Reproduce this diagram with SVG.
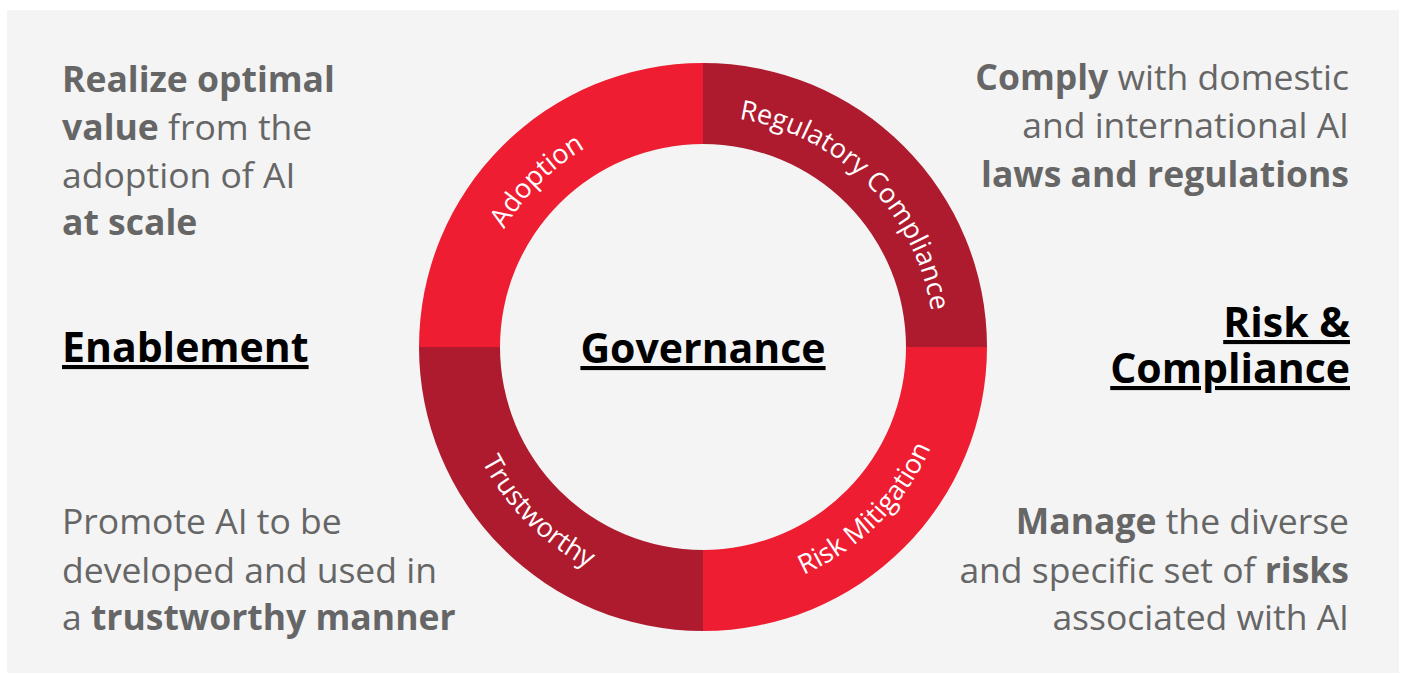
<svg xmlns="http://www.w3.org/2000/svg" width="1403" height="675" viewBox="0 0 1403 675">
<style>
.body{font-family:"Open Sans","DejaVu Sans",sans-serif;font-size:35.5px;fill:#666666}
.b{font-weight:700}
.head{font-family:"Open Sans","DejaVu Sans",sans-serif;font-size:41px;font-weight:700;fill:#000000;text-decoration:underline}
.ring{font-family:"Open Sans","DejaVu Sans",sans-serif;font-size:27px;fill:#ffffff}
.bright{fill:#EE1D31}
.dark{fill:#AF1B2E}
</style>
<defs>
<path id="pTL" d="M 472 347 A 231 231 0 0 1 703 116"/>
<path id="pTR" d="M 703 116 A 231 231 0 0 1 934 347"/>
<path id="pBR" d="M 703 596 A 249 249 0 0 0 952 347"/>
<path id="pBL" d="M 454 347 A 249 249 0 0 0 703 596"/>
</defs>
<rect x="7" y="10" width="1392" height="663" fill="#F4F4F4"/>
<g id="adoption">
<path class="bright" d="M 419 347 A 284 284 0 0 1 703 63 L 703 144 A 203 203 0 0 0 500 347 Z"/>
<text class="ring"><textPath href="#pTL" startOffset="50%" text-anchor="middle">Adoption</textPath></text>
</g>
<g id="regulatory">
<path class="dark" d="M 703 63 A 284 284 0 0 1 987 347 L 906 347 A 203 203 0 0 0 703 144 Z"/>
<text class="ring"><textPath href="#pTR" startOffset="50%" text-anchor="middle">Regulatory Compliance</textPath></text>
</g>
<g id="risk">
<path class="bright" d="M 987 347 A 284 284 0 0 1 703 631 L 703 550 A 203 203 0 0 0 906 347 Z"/>
<text class="ring"><textPath href="#pBR" startOffset="50%" text-anchor="middle">Risk Mitigation</textPath></text>
</g>
<g id="trustworthy">
<path class="dark" d="M 703 631 A 284 284 0 0 1 419 347 L 500 347 A 203 203 0 0 0 703 550 Z"/>
<text class="ring"><textPath href="#pBL" startOffset="50%" text-anchor="middle">Trustworthy</textPath></text>
</g>
<g id="governance">
<text class="head" x="703" y="363" text-anchor="middle">Governance</text>
</g>
<g id="enablement">
<text class="head" x="62" y="362">Enablement</text>
<text class="body" x="62" y="92"><tspan class="b">Realize optimal</tspan></text>
<text class="body" x="62" y="140"><tspan class="b">value</tspan> from the</text>
<text class="body" x="62" y="188">adoption of AI</text>
<text class="body" x="62" y="235"><tspan class="b">at scale</tspan></text>
<text class="body" x="62" y="534">Promote AI to be</text>
<text class="body" x="62" y="583">developed and used in</text>
<text class="body" x="62" y="630">a <tspan class="b">trustworthy manner</tspan></text>
</g>
<g id="riskcompliance">
<text class="head" x="1350" y="337" text-anchor="end">Risk &amp;</text>
<text class="head" x="1350" y="383" text-anchor="end">Compliance</text>
<text class="body" x="1349" y="90" text-anchor="end"><tspan class="b">Comply</tspan> with domestic</text>
<text class="body" x="1349" y="138" text-anchor="end">and international AI</text>
<text class="body" x="1349" y="187" text-anchor="end"><tspan class="b">laws and regulations</tspan></text>
<text class="body" x="1349" y="534" text-anchor="end"><tspan class="b">Manage</tspan> the diverse</text>
<text class="body" x="1349" y="583" text-anchor="end">and specific set of <tspan class="b">risks</tspan></text>
<text class="body" x="1349" y="630" text-anchor="end">associated with AI</text>
</g>
</svg>
